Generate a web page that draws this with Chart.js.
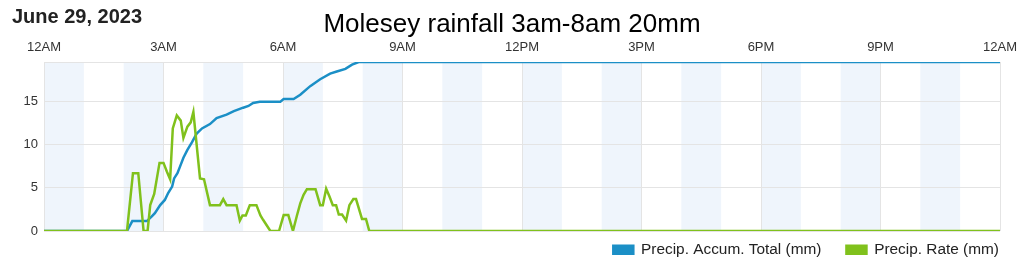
<!DOCTYPE html>
<html><head><meta charset="utf-8">
<script src="https://cdn.jsdelivr.net/npm/chart.js@4"></script>
<style>html,body{margin:0;padding:0;background:#fff}#wrap{width:1024px;height:263px;position:relative}</style>
</head><body><div id="wrap"><canvas id="c"></canvas></div>
<script>
const chartTitle = 'Molesey rainfall 3am-8am 20mm';
const chartDate = 'June 29, 2023';
const seriesNames = ['Precip. Accum. Total (mm)', 'Precip. Rate (mm)'];
const xTickHours = [0, 3, 6, 9, 12, 15, 18, 21, 24];
const xTickLabels = ['12AM', '3AM', '6AM', '9AM', '12PM', '3PM', '6PM', '9PM', '12AM'];
const yTickValues = [0, 5, 10, 15];

const accumTimes = ['00:00','02:05','02:13','02:35','02:42','02:47','02:55','03:02','03:07','03:13','03:16','03:21','03:25','03:30','03:36','03:43','03:50','03:58','04:10','04:20','04:35','04:46','05:00','05:08','05:15','05:25','05:56','06:01','06:16','06:26','06:41','06:56','07:11','07:21','07:34','07:44','07:54','24:00'];
const accumValues = [0, 0, 1.15, 1.15, 1.66, 2.06, 3.0, 3.6, 4.4, 5.15, 6.1, 6.7, 7.5, 8.5, 9.4, 10.3, 11.3, 11.9, 12.4, 13.1, 13.5, 13.9, 14.3, 14.5, 14.85, 15.0, 15.0, 15.3, 15.3, 15.8, 16.8, 17.6, 18.26, 18.5, 18.8, 19.3, 19.6, 19.6];

const rateTimes = ['00:00','02:05','02:14','02:22','02:30','02:36','02:40','02:46','02:54','03:00','03:05','03:10','03:14','03:20','03:26','03:30','03:36','03:41','03:45','03:55','04:01','04:10','04:25','04:30','04:35','04:50','04:55','04:59','05:04','05:10','05:20','05:26','05:30','05:41','05:54','06:01','06:08','06:15','06:21','06:26','06:31','06:36','06:49','06:56','07:00','07:05','07:10','07:15','07:20','07:24','07:29','07:35','07:40','07:46','07:50','07:59','08:05','08:10','24:00'];
const rateValues = [0, 0, 6.7, 6.7, 0, 0, 3.0, 4.3, 7.9, 7.9, 6.9, 6.0, 11.9, 13.4, 12.8, 10.8, 12.1, 12.6, 13.8, 6.1, 6.0, 3.0, 3.0, 3.7, 3.0, 3.0, 1.2, 1.8, 1.8, 3.0, 3.0, 1.8, 1.3, 0, 0, 1.85, 1.85, 0, 1.8, 3.2, 4.2, 4.85, 4.85, 3.0, 3.0, 4.9, 4.0, 3.0, 3.0, 1.9, 1.9, 1.2, 3.0, 3.7, 3.7, 1.4, 1.4, 0, 0];

const toHours = s => { const p = s.split(':').map(Number); return p[0] + p[1] / 60; };
const toPoints = (times, vals) => times.map((t, i) => ({ x: toHours(t), y: vals[i] }));

const BLUE = '#1b8fc6';
const GREEN = '#80c11c';
const FONT = "'Liberation Sans', Arial, Helvetica, sans-serif";
Chart.defaults.font.family = FONT;

const bandsPlugin = {
  id: 'hourBands',
  beforeDraw(chart) {
    const { ctx, chartArea, scales } = chart;
    const x = scales.x;
    ctx.save();
    ctx.fillStyle = '#eff5fc';
    for (let h = 0; h < 24; h += 2) {
      const a = x.getPixelForValue(h), b = x.getPixelForValue(h + 1);
      ctx.fillRect(a, chartArea.top, b - a, chartArea.bottom - chartArea.top);
    }
    ctx.restore();
  }
};

const datePlugin = {
  id: 'dateText',
  afterDraw(chart) {
    const ctx = chart.ctx;
    ctx.save();
    ctx.font = 'bold 20px ' + FONT;
    ctx.fillStyle = '#222';
    ctx.textBaseline = 'alphabetic';
    ctx.textAlign = 'left';
    ctx.fillText(chartDate, 12, 23);
    ctx.restore();
  }
};

const legendPlugin = {
  id: 'legendFix',
  beforeInit(chart) {
    const orig = chart.legend.fit;
    chart.legend.fit = function () { orig.call(this); this.height = 32; };
  },
  afterLayout(chart) {
    chart.legend.top -= 14;
  }
};

const yMax = Math.max(...accumValues, ...rateValues);

new Chart(document.getElementById('c'), {
  type: 'line',
  data: {
    datasets: [
      { label: seriesNames[0], data: toPoints(accumTimes, accumValues), borderColor: BLUE, backgroundColor: BLUE, borderWidth: 2.5, pointRadius: 0, tension: 0 },
      { label: seriesNames[1], data: toPoints(rateTimes, rateValues), borderColor: GREEN, backgroundColor: GREEN, borderWidth: 2.5, pointRadius: 0, tension: 0, order: -1 }
    ]
  },
  options: {
    responsive: true,
    maintainAspectRatio: false,
    animation: false,
    layout: { padding: 0 },
    plugins: {
      title: { display: true, text: chartTitle, color: '#000', font: { size: 26, weight: 'normal' }, padding: { top: 9, bottom: 0 } },
      legend: {
        position: 'bottom', align: 'end',
        labels: { boxWidth: 20, boxHeight: 8, padding: 25, color: '#222', font: { size: 15.4 },
          sort: (a, b) => a.datasetIndex - b.datasetIndex }
      },
      tooltip: { enabled: false }
    },
    scales: {
      x: {
        type: 'linear', position: 'top', min: 0, max: 24,
        afterBuildTicks: s => { s.ticks = xTickHours.map(v => ({ value: v })); },
        afterFit: s => { s.height = 21.8; },
        ticks: { padding: 7, color: '#333', font: { size: 13 }, maxRotation: 0, autoSkip: false,
          callback: v => { const i = xTickHours.indexOf(v); return i >= 0 ? xTickLabels[i] : ''; } },
        grid: { color: '#e4e4e4', drawTicks: false },
        border: { display: false }
      },
      y: {
        type: 'linear', position: 'left', min: 0, max: yMax,
        afterBuildTicks: s => { s.ticks = yTickValues.concat([yMax]).map(v => ({ value: v })); },
        afterFit: s => { s.width = 44; },
        ticks: { padding: 6, color: '#333', font: { size: 13 },
          callback: v => yTickValues.includes(v) ? String(v) : '' },
        grid: { color: '#e4e4e4', drawTicks: false },
        border: { display: false }
      },
      yR: {
        type: 'linear', position: 'right', display: true,
        grid: { display: false }, ticks: { display: false }, border: { display: false },
        afterFit: s => { s.width = 24; }
      }
    }
  },
  plugins: [bandsPlugin, datePlugin, legendPlugin]
});
</script></body></html>
